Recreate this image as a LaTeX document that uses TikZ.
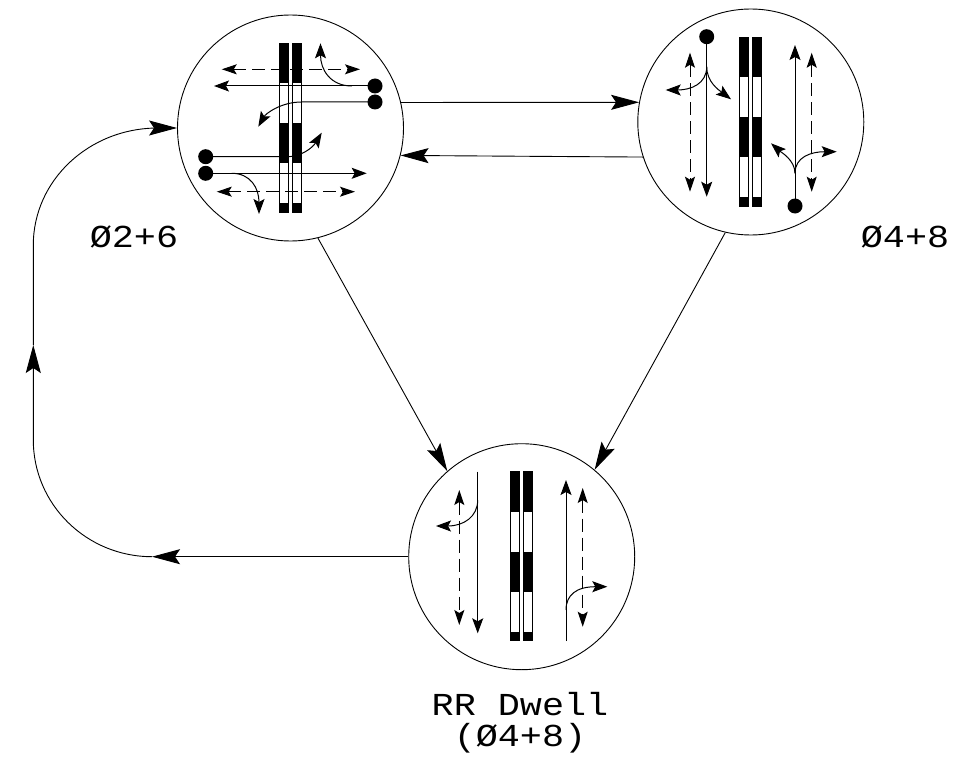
\documentclass[tikz,border=0pt]{standalone}
\usepackage{fontspec}
\newfontfamily\cadfont[FakeStretch=1.15]{Liberation Mono}
\usetikzlibrary{arrows.meta,calc}
\tikzstyle{phbox}=[circle, draw=black, line width=0.9pt, minimum size=226pt, inner sep=0pt]
\tikzstyle{pline}=[-{Stealth[length=28pt,width=15pt,inset=5pt]}, line width=0.9pt]
\tikzstyle{mline}=[-{Stealth[length=15pt,width=11pt,inset=3pt]}, line width=1pt]
\tikzstyle{pedline}=[{Stealth[length=15pt,width=10pt,inset=3pt]}-{Stealth[length=15pt,width=10pt,inset=3pt]},
                     line width=1pt, dash pattern=on 13pt off 6pt]
\tikzstyle{plabel}=[font=\cadfont\fontsize{32}{31}\selectfont, inner sep=0pt, anchor=base]

\newcommand{\railxing}{%
 \foreach \x in {-11,2} {
  \filldraw[fill=white, draw=black, line width=0.8pt] (\x,-85) rectangle ++(8.7,169);
  \foreach \y in {-85,-5} \fill (\x,\y) rectangle ++(8.7,40);
  \fill (\x,75) rectangle ++(8.7,9);
 }}

\begin{document}
\begin{tikzpicture}[x=1pt,y=-1pt]
\useasboundingbox (0,0) rectangle (955,762);

\node (P26) [phbox] at (290.5,128) {};
\node (P48) [phbox] at (750.8,122) {};
\node (RRD) [phbox] at (521.7,556.7) {};

\node (L26) [plabel] at (134,247) {Ø2+6};
\node (L48) [plabel] at (905,247) {Ø4+8};
\node (LRR) [plabel, align=center] at (520,746) {RR Dwell\\(Ø4+8)};

 \draw[pline] (P26.13) -- (P48.170);
 \draw[pline] (P48.-162.5) -- (P26.-14.3);
 \draw[pline] (P26.-76) -- (RRD.131);
 \draw[pline] (P48.-103) -- (RRD.50);

\coordinate (K1) at (152,556.7);
\coordinate (K2) at (33.3,345);
 \draw[pline] (RRD.west) -- (K1);
 \draw[pline] (K1) .. controls (86.5,556.7) and (33.3,504.4) .. (33.3,440) -- (K2);
 \draw[pline] (K2) -- (33.3,245) .. controls (33.3,180.4) and (89,128) .. (158,128) -- (P26.180);

% phase 2+6
\begin{scope}[shift={(P26.center)}]
\railxing
\draw[pedline] (-68.8,-58.7) -- (69.5,-58.7);
\draw[pedline] (-73.8,63.7) -- (64.5,63.7);
\draw[mline] (84.5,-42) -- (-76.5,-42);
\draw[mline] (61.5,-42) .. controls (40,-42) and (30,-58) .. (30,-84.7);
\draw[mline] (84.5,-26) -- (11.2,-26) .. controls (-10,-26) and (-25,-14) .. (-32.2,-1.3);
\draw[mline] (-84.8,28.7) -- (-2.2,28.7) .. controls (10,28.7) and (22,20) .. (31.2,4.7);
\draw[mline] (-84.8,45.3) -- (76.2,45.3);
\draw[mline] (-58.8,45.3) .. controls (-40,45.3) and (-31.5,60) .. (-31.5,86);
\fill (84.5,-42) circle (7.5) (84.5,-26) circle (7.5) (-84.8,28.7) circle (7.5) (-84.8,45.3) circle (7.5);
\end{scope}

% phase 4+8
\begin{scope}[shift={(P48.center)}]
\railxing
\draw[pedline] (-60.8,-69.3) -- (-60.8,69.7);
\draw[pedline] (60.9,-69.3) -- (60.9,69.7);
\draw[mline] (-44.1,-85.3) -- (-44.1,74.7);
\draw[mline] (-44.1,-55.3) .. controls (-44.1,-38) and (-60,-32) .. (-85.1,-32);
\draw[mline] (-44.1,-55.3) .. controls (-44.1,-40) and (-32,-32) .. (-19.8,-22.7);
\draw[mline] (44.2,84) -- (44.2,-77);
\draw[mline] (44.2,51.3) .. controls (44.2,38) and (30,30) .. (20.2,21.3);
\draw[mline] (44.2,51.3) .. controls (44.2,35) and (60,29.7) .. (85.9,29.7);
\fill (-44.1,-85.3) circle (7.5) (44.2,84) circle (7.5);
\end{scope}

% rr dwell
\begin{scope}[shift={(RRD.center)}]
\railxing
\draw[pedline] (-62.4,-66.7) -- (-62.4,68.3);
\draw[pedline] (61,-68.7) -- (61,70);
\draw[mline] (-44,-85) -- (-44,76.6);
\draw[mline] (-44,-56.7) .. controls (-44,-40) and (-58,-30.7) .. (-85.7,-30.7);
\draw[mline] (44.3,84.3) -- (44.3,-76.7);
\draw[mline] (44.3,53.3) .. controls (44.3,38) and (55,30) .. (85.6,30);
\end{scope}

\end{tikzpicture}
\end{document}
